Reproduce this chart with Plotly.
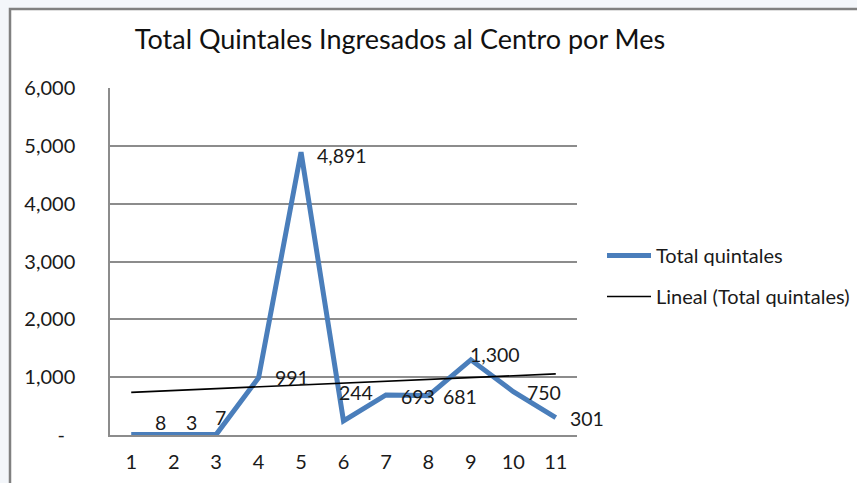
import numpy as np
import plotly.graph_objects as go

# ---- data ----
months = [1, 2, 3, 4, 5, 6, 7, 8, 9, 10, 11]
quintales = [8, 3, 7, 991, 4891, 244, 693, 681, 1300, 750, 301]
y_tickvals = [0, 1000, 2000, 3000, 4000, 5000, 6000]
y_ticktext = ["-\u00a0\u00a0", "1,000", "2,000", "3,000", "4,000", "5,000", "6,000"]
title_text = "Total Quintales Ingresados al Centro por Mes"
series_name = "Total quintales"
trend_name = "Lineal (Total quintales)"

# label offsets (px) relative to each point: style only
label_dx = [29, 18, 4, 33, 41, 12, 32, 32, 24, 31, 31]
label_dy = [12, 12, 17, 0, -3, 28, -2, -1, 5, -1, -1]

# linear trendline (least squares) from the series
coef = np.polyfit(months, quintales, 1)
trend = [coef[0] * m + coef[1] for m in months]

FONT = "Lato"
GRID = "#8c8c8c"
BLUE = "#4a7ebb"

fig = go.Figure()
fig.add_trace(go.Scatter(
    x=months, y=quintales, mode="lines", name=series_name,
    line=dict(color=BLUE, width=5), legendgroup="a", cliponaxis=False,
))
fig.add_trace(go.Scatter(
    x=[months[0], months[-1]], y=[trend[0], trend[-1]], mode="lines", name=trend_name,
    line=dict(color="black", width=1.6), legendgroup="b",
))

for m, v, dx, dy in zip(months, quintales, label_dx, label_dy):
    fig.add_annotation(
        x=m, y=v, text=f"{v:,}", showarrow=False,
        xanchor="center", yanchor="middle", xshift=dx, yshift=dy,
        font=dict(family=FONT, size=19.5, color="#1a1a1a"),
    )

L, R, T, B = 110, 280, 88, 48
W, H = 857, 483
pw, ph = W - L - R, H - T - B
BOTTOM_PX = H - B

def px_x(p):
    return (p - L) / pw

def px_y(p):
    return (BOTTOM_PX - p) / ph

# chart frame (white area with gray border)
fig.add_shape(
    type="rect", xref="paper", yref="paper",
    x0=px_x(10), x1=px_x(875), y0=px_y(500), y1=px_y(9),
    line=dict(color="#808080", width=2.5), fillcolor="white", layer="below",
)

fig.update_layout(
    width=W, height=H,
    margin=dict(l=L, r=R, t=T, b=B, autoexpand=False),
    paper_bgcolor="#f3f6fa",
    plot_bgcolor="rgba(0,0,0,0)",
    font=dict(family=FONT, size=20, color="#1a1a1a"),
    title=dict(
        text=title_text, x=400 / W, xanchor="center", xref="container",
        y=1 - 40 / H, yanchor="middle", yref="container",
        font=dict(family=FONT, size=27, color="#111111"),
    ),
    showlegend=True,
    legend=dict(
        x=px_x(602), xanchor="left", y=px_y(236), yanchor="top",
        bgcolor="rgba(0,0,0,0)", font=dict(family=FONT, size=20, color="#1a1a1a"),
        traceorder="grouped", tracegroupgap=12, itemwidth=44,
    ),
)

fig.update_xaxes(
    range=[0.5, 11.5], tickvals=months, ticktext=[str(m) for m in months],
    showgrid=False, zeroline=False, showline=True, linecolor=GRID, linewidth=1.5,
    ticks="", ticklabelstandoff=8, tickfont=dict(family=FONT, size=20),
    fixedrange=True, automargin=False,
)
fig.update_yaxes(
    range=[0, 6000], tickvals=y_tickvals, ticktext=y_ticktext,
    showgrid=True, gridcolor=GRID, gridwidth=1.5, zeroline=False,
    showline=True, linecolor=GRID, linewidth=1.5,
    ticks="", ticklabelstandoff=29, tickfont=dict(family=FONT, size=20),
    fixedrange=True, automargin=False,
)

fig.write_html(
    "out.html",
    config={"displayModeBar": False},
    post_script="document.body.style.margin='0';document.body.style.overflow='hidden';",
)
